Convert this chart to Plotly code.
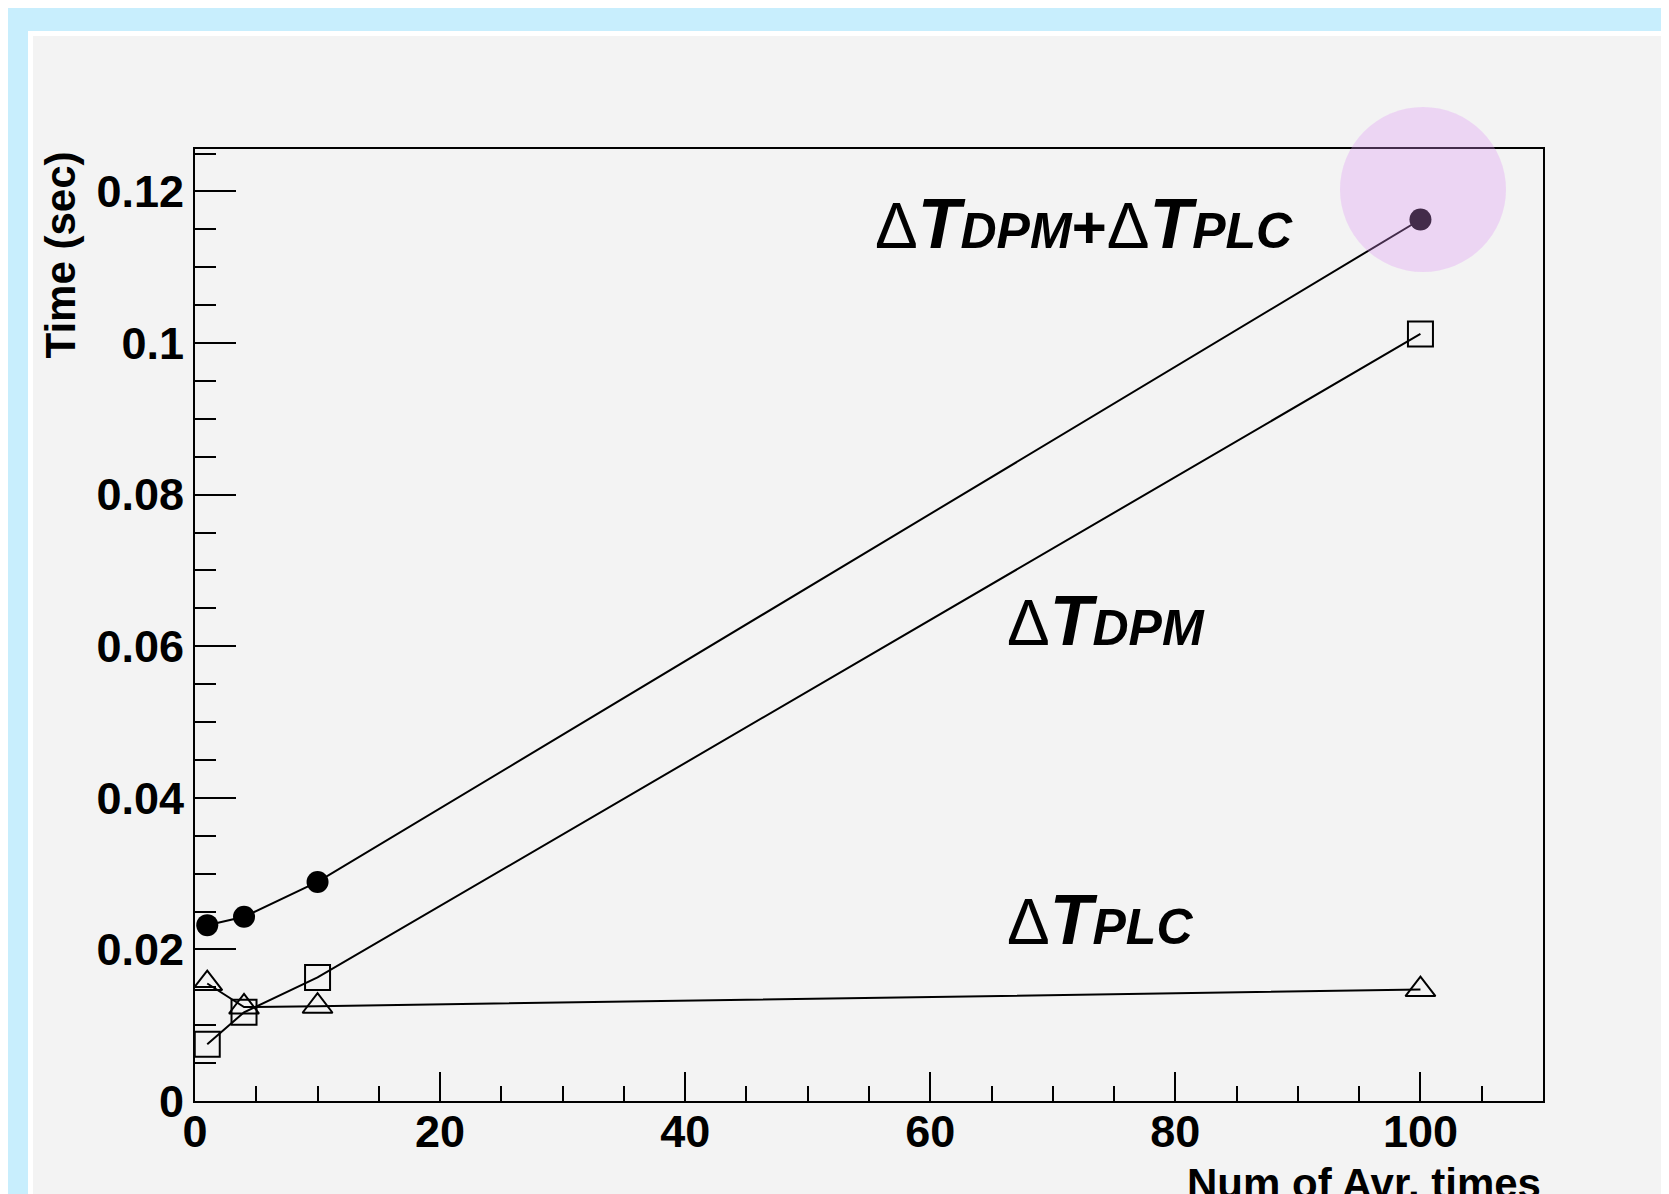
import plotly.graph_objects as go

# ---- data ----
x_avg = [1, 4, 10, 100]
t_total = [0.0232, 0.0243, 0.0289, 0.1163]   # ΔT_DPM + ΔT_PLC  (filled circles)
t_dpm = [0.0075, 0.0117, 0.0163, 0.1012]     # ΔT_DPM (open squares)
t_plc = [0.0155, 0.0124, 0.0125, 0.0147]     # ΔT_PLC (open triangles)

x_ticks = [0, 20, 40, 60, 80, 100]
y_ticks = [0, 0.02, 0.04, 0.06, 0.08, 0.1, 0.12]

WIN_W, WIN_H = 1669, 1194
OFF = 8  # page body margin: figure is drawn at (8, 8) in the window
W, H = WIN_W - OFF, WIN_H - OFF
# plot area in window pixels
PX0, PX1, PY0, PY1 = 195, 1543, 149, 1101
L, T = PX0 - OFF, PY0 - OFF
R, B = W - (PX1 - OFF), H - (PY1 - OFF)
PW, PH = PX1 - PX0, PY1 - PY0


def px(x):
    return (x - PX0) / PW


def py(y):
    return (PY1 - y) / PH


FONT = "Liberation Sans, Arial, Helvetica, sans-serif"
BLUE = "#c8eefd"
GREY = "#f3f3f3"

fig = go.Figure()
line_style = dict(color="black", width=2)
fig.add_trace(go.Scatter(x=x_avg, y=t_total, mode="lines+markers", line=line_style,
                         marker=dict(symbol="circle", size=22, color="black"),
                         name="ΔT_DPM+ΔT_PLC", showlegend=False))
fig.add_trace(go.Scatter(x=x_avg, y=t_dpm, mode="lines+markers", line=line_style,
                         marker=dict(symbol="square-open", size=25, color="black",
                                     line=dict(width=2, color="black")),
                         name="ΔT_DPM", showlegend=False))
fig.add_trace(go.Scatter(x=x_avg, y=t_plc, mode="lines+markers", line=line_style,
                         marker=dict(symbol="triangle-up-open", size=26, color="black",
                                     line=dict(width=2, color="black")),
                         name="ΔT_PLC", showlegend=False))

axis_common = dict(showgrid=False, zeroline=False, showline=True, linecolor="black",
                   linewidth=2, mirror=True, ticks="inside", tickwidth=2,
                   tickcolor="black",
                   tickfont=dict(family=FONT, size=45, color="black", weight="bold"))

fig.update_xaxes(range=[0, 110], tickvals=x_ticks, ticklen=29, ticklabelstandoff=-10,
                 minor=dict(dtick=5, tick0=0, ticks="inside", ticklen=15,
                            tickwidth=2, tickcolor="black"),
                 **axis_common)
fig.update_yaxes(range=[0, 0.1256], tickvals=y_ticks, ticklen=41,
                 minor=dict(dtick=0.005, tick0=0, ticks="inside", ticklen=21,
                            tickwidth=2, tickcolor="black"),
                 **axis_common)

FAR = 400
shapes = [
    # light-blue surround (top band and left band)
    dict(type="rect", xref="paper", yref="paper", layer="below",
         x0=px(-FAR), x1=px(WIN_W + FAR), y0=py(31), y1=py(-FAR),
         fillcolor=BLUE, line=dict(width=0)),
    dict(type="rect", xref="paper", yref="paper", layer="below",
         x0=px(-FAR), x1=px(28), y0=py(WIN_H + FAR), y1=py(-FAR),
         fillcolor=BLUE, line=dict(width=0)),
    # white frame of the canvas
    dict(type="rect", xref="paper", yref="paper", layer="below",
         x0=px(28), x1=px(WIN_W + FAR), y0=py(36), y1=py(31),
         fillcolor="white", line=dict(width=0)),
    dict(type="rect", xref="paper", yref="paper", layer="below",
         x0=px(28), x1=px(33), y0=py(WIN_H + FAR), y1=py(31),
         fillcolor="white", line=dict(width=0)),
    # pink highlight circle
    dict(type="circle", xref="paper", yref="paper", layer="above",
         x0=px(1340), x1=px(1506), y0=py(272), y1=py(107),
         fillcolor="rgba(222,145,245,0.30)", line=dict(width=0)),
]

d = '<span style="font-size:64px">Δ</span>'


def lab(sub):
    return d + '<b><i>T<span style="font-size:50px">' + sub + '</span></i></b>'


annotations = [
    dict(text=lab("DPM") + '<b><span style="font-size:60px">+</span></b>' + lab("PLC"),
         x=px(873), y=py(265), xref="paper", yref="paper", xanchor="left",
         yanchor="bottom", showarrow=False,
         font=dict(family=FONT, size=70, color="black")),
    dict(text=lab("DPM"), x=px(1005), y=py(662), xref="paper", yref="paper",
         xanchor="left", yanchor="bottom", showarrow=False,
         font=dict(family=FONT, size=70, color="black")),
    dict(text=lab("PLC"), x=px(1005), y=py(961), xref="paper", yref="paper",
         xanchor="left", yanchor="bottom", showarrow=False,
         font=dict(family=FONT, size=70, color="black")),
    dict(text="<b>Time (sec)</b>", textangle=-90, x=px(60), y=py(150),
         xref="paper", yref="paper", xanchor="center", yanchor="top",
         showarrow=False, font=dict(family=FONT, size=42, color="black")),
    dict(text="<b>Num of Avr. times</b>", x=1.0, y=py(1158), xref="paper",
         yref="paper", xanchor="right", yanchor="top", showarrow=False,
         font=dict(family=FONT, size=42, color="black")),
]

fig.update_layout(width=W, height=H, margin=dict(l=L, r=R, t=T, b=B, pad=0),
                  paper_bgcolor=GREY, plot_bgcolor=GREY,
                  shapes=shapes, annotations=annotations, showlegend=False)

fig.write_html("out.html")
